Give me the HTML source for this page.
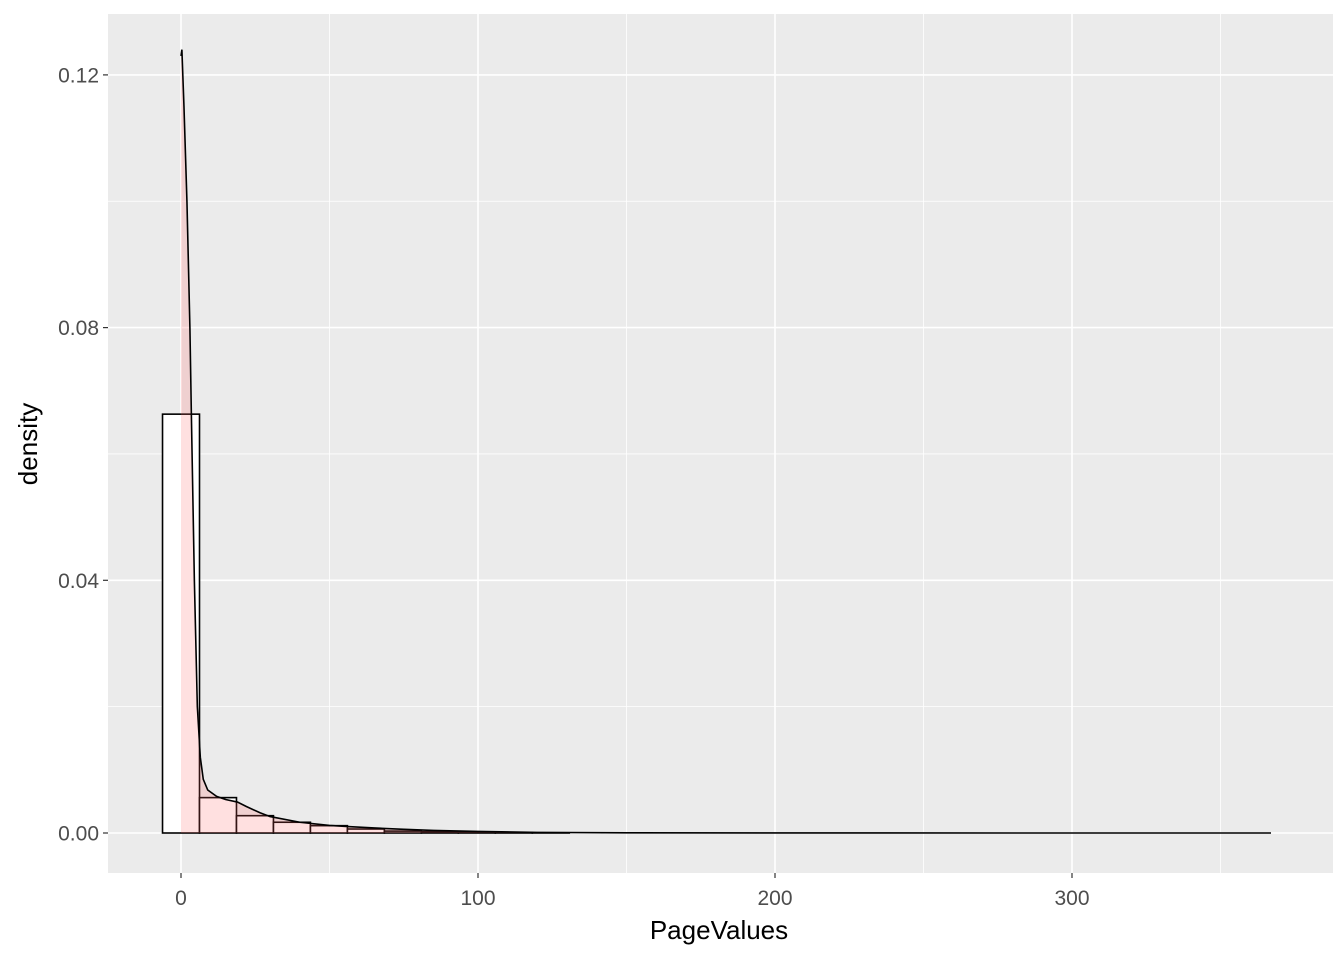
<!DOCTYPE html>
<html><head><meta charset="utf-8"><style>
body{margin:0;background:#fff;font-family:"Liberation Sans",sans-serif}
</style></head><body>
<svg id="chart" width="1344" height="960" xmlns="http://www.w3.org/2000/svg" font-family="Liberation Sans, sans-serif">
<rect x="108" y="14" width="1225" height="859" fill="#EBEBEB"/>
<g id="grid"></g><g id="bars"></g><g id="dens"></g><g id="axes"></g>
<text x="719" y="939" font-size="26" text-anchor="middle">PageValues</text>
<text transform="translate(37,444) rotate(-90)" font-size="26" text-anchor="middle">density</text>
</svg>
<script>
const binStart = -6.22;
const binWidth = 12.45;
const barHeights = [0.0663,0.0056,0.00274,0.0017,0.00116,0.00063,0.0003,0.0002,0.00012,0.00006,0.00003,0,0,0,0,0,0,0,0,0,0,0,0,0,0,0,0,0,0,0];
const densX = [0,0.3,1,2,3,3.5,4.5,5.5,6.5,7.5,9,12,15,19,22,26.6,30,40,50,57,65,74,85,100,120,150,200,300,367];
const densY = [0.123,0.124,0.115,0.10,0.08,0.066,0.04,0.02,0.012,0.0085,0.0068,0.0058,0.0053,0.0049,0.0042,0.0032,0.0026,0.0017,0.0012,0.001,0.0008,0.0006,0.0004,0.00025,0.0001,0.00003,0.00001,0,0];
const xTicks = [0,100,200,300];
const yTicks = [0,0.04,0.08,0.12];
const NS='http://www.w3.org/2000/svg';
const X = v => 181 + v*2.97;
const Y = v => 833 - v*6317.5;
function mk(tag, attrs, parent){const e=document.createElementNS(NS,tag);for(const k in attrs)e.setAttribute(k,attrs[k]);document.getElementById(parent).appendChild(e);return e;}
[50,150,250,350].forEach(v=>{const e=mk('line',{x1:X(v),x2:X(v),y1:14,y2:873,stroke:'#fff','stroke-width':0.8},'grid');

});
[0.02,0.06,0.10].forEach(v=>{const e=mk('line',{x1:108,x2:1333,y1:Y(v),y2:Y(v),stroke:'#fff','stroke-width':0.8},'grid');

});
xTicks.forEach(v=>{const e=mk('line',{x1:X(v),x2:X(v),y1:14,y2:873,stroke:'#fff','stroke-width':1.6},'grid');


const t=mk('text',{x:X(v),y:905,'font-size':21,fill:'#4D4D4D','text-anchor':'middle'},'axes');t.textContent=v;


const k=mk('line',{x1:X(v),x2:X(v),y1:873,y2:878,stroke:'#333','stroke-width':1.2},'axes');

});
yTicks.forEach(v=>{const e=mk('line',{x1:108,x2:1333,y1:Y(v),y2:Y(v),stroke:'#fff','stroke-width':1.6},'grid');


const t=mk('text',{x:99,y:Y(v)+7.5,'font-size':21,fill:'#4D4D4D','text-anchor':'end'},'axes');t.textContent=v.toFixed(2);


const k=mk('line',{x1:103,x2:108,y1:Y(v),y2:Y(v),stroke:'#333','stroke-width':1.2},'axes');

});
barHeights.forEach((h,i)=>{const x0=X(binStart+i*binWidth),x1=X(binStart+(i+1)*binWidth);
const r=mk('rect',{x:x0,y:Y(h),width:x1-x0,height:Y(0)-Y(h),fill:'#fff',stroke:'#000','stroke-width':1.6},'bars');

});
let d='M'+X(densX[0])+','+Y(0);
densX.forEach((x,i)=>{d+=' L'+X(x)+','+Y(densY[i]);});
d+=' L'+X(densX[densX.length-1])+','+Y(0)+' Z';
const a=mk('path',{d:d,fill:'rgba(255,100,100,0.2)',stroke:'none'},'dens');


const l=mk('polyline',{points:densX.map((x,i)=>X(x)+','+Y(densY[i])).join(' '),fill:'none',stroke:'#000','stroke-width':1.6},'dens');


</script>
</body></html>
